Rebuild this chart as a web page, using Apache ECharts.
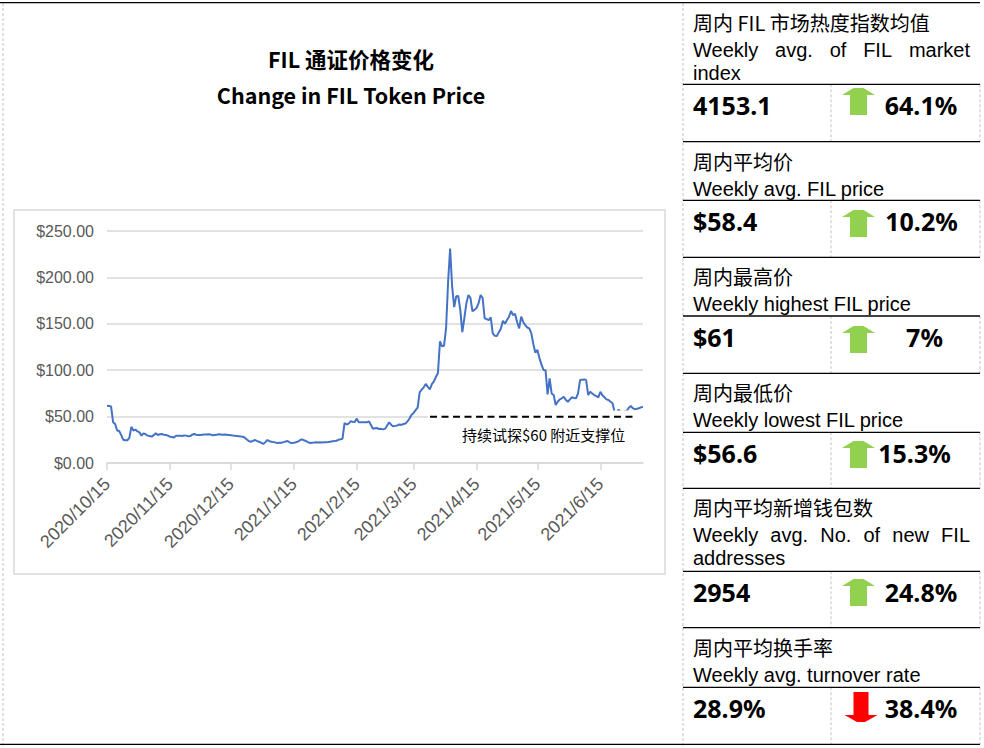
<!DOCTYPE html>
<html>
<head>
<meta charset="utf-8">
<script src="https://cdn.jsdelivr.net/npm/echarts@6/dist/echarts.min.js"></script>
<style>
  html, body { margin: 0; padding: 0; background: #fff; }
  #main { width: 984px; height: 748px; }
</style>
</head>
<body>
<div id="main"></div>
<script>
// ---------- DATA ----------
const startDate = [2020, 10, 15];
const prices = [
  61.7, 61.5, 61, 44, 42, 35, 34.5, 30, 25, 24.5,
  24.5, 27, 39, 35, 36, 34, 33, 29.5, 32, 31,
  29.5, 29, 28.4, 30, 32, 30.2, 31, 31.3, 30.5, 30.2,
  29.5, 28.4, 28, 27.3, 29.5, 29.3, 29.5, 29.2, 29.6, 29.5,
  28.8, 29, 30.5, 31.3, 30.5, 30.3, 30.2, 30.5, 30.8, 30.6,
  31, 30.8, 29.8, 30.2, 30.5, 31, 30.8, 30.5, 30.6, 30.4,
  30.2, 30, 29.6, 29.4, 29.2, 28.9, 28.6, 28.4, 27, 25,
  23.5, 23, 24, 24.8, 23.5, 23, 21.8, 20.5, 22.5, 24.8,
  23.5, 23, 22.5, 22, 21.6, 21.8, 21.9, 22.5, 23.2, 23.7,
  22, 21.6, 21.8, 22.3, 23, 24.5, 25.5, 24.5, 23.7, 22.5,
  21.6, 21.8, 22, 22.3, 22.2, 22.3, 22.2, 22.3, 22.3, 22.6,
  23, 23.4, 23.6, 24, 25, 25.5, 26.2, 43.1, 41.5, 42.5,
  44.9, 44.5, 44.2, 47.8, 44, 43.9, 44, 44, 43.8, 44.9,
  41, 37, 37.5, 37.7, 36.6, 36.8, 36.2, 37, 40.5, 43.9,
  41, 39.5, 40, 40.5, 41.5, 41, 42, 42.5, 44.9, 48,
  52, 54, 57, 59.7, 76.2, 79, 81.6, 85.2, 82, 79.4,
  85, 88, 92.7, 97, 131, 125.7, 126.4, 145, 195, 231,
  190, 168, 179.6, 180, 165, 141, 156, 172, 181, 178,
  163.5, 165, 167, 172, 181, 178, 156, 155, 154, 157,
  139.7, 137, 136.9, 141, 145, 153.3, 150, 154, 157.7, 163.8,
  159.5, 160.6, 152, 145, 157.7, 152, 148.7, 146, 145, 139.7,
  128, 118.9, 121.8, 113, 106, 100.2, 100, 74, 91.2, 75,
  73.2, 62.5, 66, 68.6, 69.7, 71.4, 68, 66, 68.5, 70.8,
  70, 69.7, 75, 89.4, 89.8, 90.1, 89.4, 73.2, 76.8, 75,
  73.2, 72, 70.8, 76.8, 73, 70.8, 68.6, 67.9, 66, 64.3,
  55, 54.5, 57.5, 55, 55, 55.5, 56, 59.5, 61.4, 59,
  57.8, 58.5, 59, 60, 60.5
];
const yMin = 0, yMax = 250, yStep = 50;
const titleLines = ['FIL 通证价格变化', 'Change in FIL Token Price'];
const noteText = '持续试探$60 附近支撑位';

const metricZh = ['周内 FIL 市场热度指数均值', '周内平均价', '周内最高价', '周内最低价', '周内平均新增钱包数', '周内平均换手率'];
const metricEn = [
  ['Weekly avg. of FIL market', 'index'],
  ['Weekly avg. FIL price'],
  ['Weekly highest FIL price'],
  ['Weekly lowest FIL price'],
  ['Weekly avg. No. of new FIL', 'addresses'],
  ['Weekly avg. turnover rate']
];
const metricValue = ['4153.1', '$58.4', '$61', '$56.6', '2954', '28.9%'];
const metricChange = ['64.1%', '10.2%', '7%', '15.3%', '24.8%', '38.4%'];
const metricDir = ['up', 'up', 'up', 'up', 'up', 'down'];

// ---------- LAYOUT ----------
const rowTop = [2.7, 141.7, 257.3, 373.3, 488.3, 627.7];
const valTop = [84.3, 200.3, 316, 432.3, 571.3, 687.3];
const panelBottom = 744.3;
const arrowTop = [88, 210, 326, 441, 579, 692];
const changeX = [921, 921.5, 924.5, 914.5, 921, 921];

// categories (daily dates)
const categories = [];
{
  const d0 = new Date(startDate[0], startDate[1] - 1, startDate[2]);
  for (let i = 0; i < prices.length; i++) {
    const d = new Date(d0.getFullYear(), d0.getMonth(), d0.getDate() + i);
    categories.push(d.getFullYear() + '/' + (d.getMonth() + 1) + '/' + d.getDate());
  }
}

const ctx = document.createElement('canvas').getContext('2d');
const enFont = '20px "Liberation Sans", Arial, sans-serif';
ctx.font = enFont;

const zhFont = '"Noto Sans CJK SC", sans-serif';
const numFont = 'bold 25px "Noto Sans", sans-serif';
const g = [];

// frame lines
const black = '#000';
const dashGray = '#c4c4c4';
g.push({ type: 'line', shape: { x1: 0, y1: 2.7, x2: 980, y2: 2.7 }, style: { stroke: black, lineWidth: 1.3 }, z: 50 });
g.push({ type: 'line', shape: { x1: 0, y1: panelBottom, x2: 980, y2: panelBottom }, style: { stroke: black, lineWidth: 1.3 }, z: 50 });
g.push({ type: 'line', shape: { x1: 3, y1: 3, x2: 3, y2: 748 }, style: { stroke: dashGray, lineWidth: 1, lineDash: [3, 2] }, z: 40 });
g.push({ type: 'line', shape: { x1: 683, y1: 3, x2: 683, y2: 748 }, style: { stroke: dashGray, lineWidth: 1, lineDash: [3, 2] }, z: 40 });

// chart box
g.push({ type: 'rect', shape: { x: 14, y: 210, width: 651, height: 364 }, style: { fill: 'none', stroke: '#d9d9d9', lineWidth: 1.5 }, z: 0 });

// right panel
for (let i = 0; i < 6; i++) {
  const bottom = i < 5 ? rowTop[i + 1] : panelBottom;
  g.push({ type: 'line', shape: { x1: 683, y1: valTop[i], x2: 980, y2: valTop[i] }, style: { stroke: black, lineWidth: 1.3 }, z: 50 });
  if (i > 0) g.push({ type: 'line', shape: { x1: 683, y1: rowTop[i], x2: 980, y2: rowTop[i] }, style: { stroke: black, lineWidth: 1.3 }, z: 50 });
  g.push({ type: 'line', shape: { x1: 831, y1: valTop[i], x2: 831, y2: bottom }, style: { stroke: dashGray, lineWidth: 1, lineDash: [3, 2] }, z: 40 });
  g.push({ type: 'line', shape: { x1: 980, y1: valTop[i], x2: 980, y2: bottom }, style: { stroke: dashGray, lineWidth: 1, lineDash: [3, 2] }, z: 40 });

  g.push({ type: 'text', x: 693, y: rowTop[i] + 19.5, style: { text: metricZh[i], font: '20px ' + zhFont, fill: '#000', verticalAlign: 'middle', align: 'left' }, z: 50 });

  const lines = metricEn[i];
  lines.forEach((ln, k) => {
    const cy = rowTop[i] + 47 + k * 23;
    if (lines.length > 1 && k === 0) {
      // justified line
      const words = ln.split(' ');
      const widths = words.map(w => ctx.measureText(w).width);
      const total = widths.reduce((a, b) => a + b, 0);
      const gap = (970 - 693 - total) / (words.length - 1);
      let x = 693;
      words.forEach((w, j) => {
        g.push({ type: 'text', x: x, y: cy, style: { text: w, font: enFont, fill: '#000', verticalAlign: 'middle', align: 'left' }, z: 50 });
        x += widths[j] + gap;
      });
    } else {
      g.push({ type: 'text', x: 693, y: cy, style: { text: ln, font: enFont, fill: '#000', verticalAlign: 'middle', align: 'left' }, z: 50 });
    }
  });

  const vy = valTop[i] + 21;
  g.push({ type: 'text', x: 693, y: vy, style: { text: metricValue[i], font: numFont, fill: '#000', verticalAlign: 'middle', align: 'left' }, z: 50 });
  g.push({ type: 'text', x: changeX[i], y: vy, style: { text: metricChange[i], font: numFont, fill: '#000', verticalAlign: 'middle', align: 'center' }, z: 50 });

  const t = arrowTop[i];
  if (metricDir[i] === 'up') {
    const cx = 858.5;
    g.push({ type: 'polygon', shape: { points: [[cx - 5, t], [cx + 5, t], [cx + 16.5, t + 7], [cx + 8.5, t + 7], [cx + 8.5, t + 27], [cx - 8.5, t + 27], [cx - 8.5, t + 7], [cx - 16.5, t + 7]] }, style: { fill: '#92d050' }, z: 50 });
  } else {
    const cx = 861;
    g.push({ type: 'polygon', shape: { points: [[cx - 7.5, t], [cx + 7.5, t], [cx + 7.5, t + 23], [cx + 16.5, t + 23], [cx + 4, t + 30], [cx - 4, t + 30], [cx - 16.5, t + 23], [cx - 7.5, t + 23]] }, style: { fill: '#ff0000' }, z: 50 });
  }
}

// annotation (text box with white fill, dashed support line)
g.push({ type: 'rect', shape: { x: 428, y: 410.6, width: 217, height: 36 }, style: { fill: '#fff' }, z: 100 });
g.push({ type: 'line', shape: { x1: 430, y1: 416.7, x2: 633, y2: 416.7 }, style: { stroke: '#000', lineWidth: 2, lineDash: [7, 4.5] }, z: 101 });
g.push({ type: 'text', x: 462, y: 434, style: { text: noteText, font: '15px ' + zhFont, fill: '#000', verticalAlign: 'middle', align: 'left' }, z: 101 });

const chart = echarts.init(document.getElementById('main'), null, { renderer: 'svg', width: 984, height: 748 });
chart.setOption({
  animation: false,
  backgroundColor: '#fff',
  title: {
    text: titleLines.join('\n'),
    left: 346, top: 35, textAlign: 'center',
    textStyle: { fontSize: 21.5, fontWeight: 'bold', lineHeight: 36, color: '#000', fontFamily: '"Noto Sans CJK SC", "Noto Sans", sans-serif' }
  },
  grid: { left: 107, right: 341, top: 231, bottom: 285, containLabel: false },
  xAxis: {
    type: 'category',
    data: categories,
    boundaryGap: false,
    axisLine: { lineStyle: { color: '#d9d9d9', width: 1.5 } },
    axisTick: {
      show: true, length: 7, lineStyle: { color: '#d9d9d9', width: 1.5 },
      interval: (idx, val) => /\/15$/.test(val)
    },
    axisLabel: {
      interval: (idx, val) => /\/15$/.test(val),
      rotate: 45, margin: 18,
      color: '#595959', fontSize: 18, fontFamily: '"Liberation Sans", Arial, sans-serif',
      hideOverlap: false
    },
    splitLine: { show: false }
  },
  yAxis: {
    type: 'value',
    min: yMin, max: yMax, interval: yStep,
    axisLine: { show: false },
    axisTick: { show: false },
    axisLabel: {
      margin: 13, color: '#595959', fontSize: 16, fontFamily: '"Liberation Sans", Arial, sans-serif',
      formatter: v => '$' + v.toFixed(2)
    },
    splitLine: { lineStyle: { color: '#d9d9d9', width: 1.5 } }
  },
  series: [{
    type: 'line',
    data: prices,
    showSymbol: false,
    symbol: 'none',
    lineStyle: { color: '#4472c4', width: 2 },
    z: 5
  }],
  graphic: g
});
</script>
</body>
</html>
